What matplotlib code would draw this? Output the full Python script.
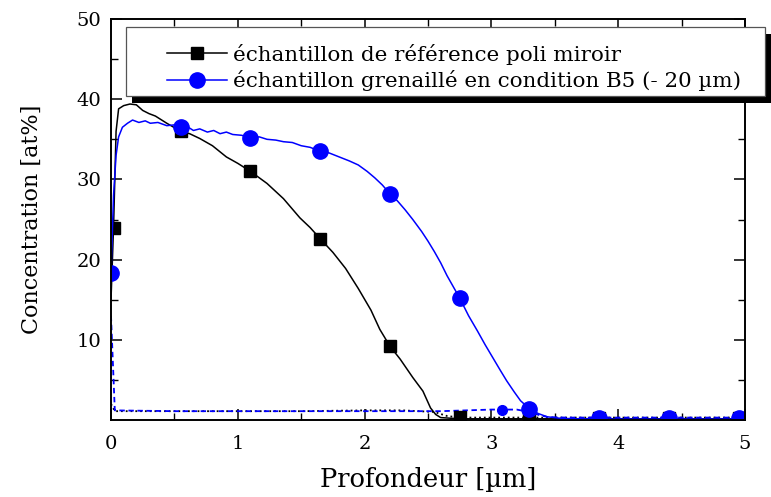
import matplotlib.pyplot as plt
from matplotlib.lines import Line2D
from matplotlib.patches import Rectangle

plt.rcParams['font.family'] = ['DejaVu Serif']

# reference sample (mirror polished), main profile
ref_x = [0.0, 0.02, 0.04, 0.06, 0.1, 0.15, 0.2, 0.25, 0.3, 0.35, 0.44, 0.55, 0.62, 0.7,
         0.8, 0.91, 1.0, 1.1, 1.23, 1.36, 1.49, 1.57, 1.65, 1.75, 1.85, 1.95, 2.05, 2.12,
         2.2, 2.28, 2.38, 2.46, 2.52, 2.56, 2.6, 2.7, 2.8, 3.0, 3.3, 3.6, 3.85, 4.2, 4.4,
         4.7, 4.95, 5.0]
ref_y = [15.0, 24.0, 36.0, 38.8, 39.2, 39.4, 39.3, 38.6, 38.2, 37.9, 37.0, 36.0, 35.7, 35.1,
         34.2, 32.8, 32.0, 31.0, 29.5, 27.6, 25.2, 24.0, 22.6, 20.9, 18.9, 16.4, 13.7, 11.3,
         9.2, 7.6, 5.3, 3.6, 1.5, 0.7, 0.3, 0.2, 0.15, 0.15, 0.15, 0.15, 0.15, 0.15, 0.15,
         0.15, 0.15, 0.15]
ref_mx = [0.02, 0.55, 1.1, 1.65, 2.2, 2.75, 3.3, 3.85, 4.4, 4.95]
ref_my = [24.0, 36.0, 31.0, 22.6, 9.2, 0.4, 0.2, 0.2, 0.2, 0.3]

# shot peened sample B5, main profile
b5_x = [0.0, 0.02, 0.04, 0.06, 0.09, 0.13, 0.17, 0.22, 0.27, 0.31, 0.37, 0.44, 0.5, 0.55,
        0.6, 0.65, 0.7, 0.76, 0.81, 0.86, 0.91, 0.96, 1.03, 1.1, 1.17, 1.23, 1.3, 1.36,
        1.43, 1.5, 1.57, 1.65, 1.72, 1.8, 1.88, 1.95, 2.02, 2.08, 2.14, 2.2, 2.26, 2.32,
        2.38, 2.45, 2.5, 2.55, 2.6, 2.65, 2.7, 2.75, 2.82, 2.89, 2.95, 3.01, 3.07, 3.12,
        3.18, 3.23, 3.3, 3.37, 3.44, 3.55, 3.7, 4.0, 4.5, 5.0]
b5_y = [18.3, 28.0, 33.0, 35.3, 36.5, 37.0, 37.4, 37.1, 37.3, 37.0, 37.1, 36.7, 36.8, 36.4,
        36.6, 36.1, 36.3, 35.9, 36.1, 35.7, 35.9, 35.6, 35.5, 35.2, 35.3, 35.0, 34.9, 34.7,
        34.6, 34.2, 34.0, 33.5, 33.3, 32.8, 32.3, 31.8, 31.0, 30.2, 29.3, 28.2, 27.3, 26.2,
        25.0, 23.5, 22.3, 21.0, 19.6, 18.0, 16.6, 15.2, 13.0, 11.1, 9.4, 7.8, 6.2, 4.9,
        3.5, 2.4, 1.4, 0.8, 0.4, 0.2, 0.15, 0.12, 0.12, 0.12]
b5_mx = [0.0, 0.55, 1.1, 1.65, 2.2, 2.75, 3.3, 3.85, 4.4, 4.95]
b5_my = [18.3, 36.5, 35.2, 33.5, 28.2, 15.2, 1.4, 0.2, 0.2, 0.3]

# second element profiles (dashed / dotted)
ref2_x = [0.0, 0.03, 0.5, 1.0, 1.5, 2.0, 2.3, 2.55, 2.65, 2.75, 3.0, 3.5, 4.0, 4.5, 5.0]
ref2_y = [2.0, 1.1, 1.1, 1.1, 1.1, 1.2, 1.2, 1.0, 0.5, 0.3, 0.3, 0.3, 0.3, 0.3, 0.3]
b52_x = [0.0, 0.03, 0.5, 1.0, 1.5, 2.0, 2.3, 2.6, 2.8, 3.0, 3.1, 3.2, 3.3, 3.38, 3.45,
         3.6, 4.0, 4.5, 5.0]
b52_y = [13.0, 1.2, 1.1, 1.1, 1.1, 1.1, 1.1, 1.1, 1.2, 1.3, 1.3, 1.3, 1.0, 0.6, 0.35,
         0.3, 0.3, 0.3, 0.3]
b52_mx = [3.08]
b52_my = [1.3]

labels = ['échantillon de référence poli miroir',
          'échantillon grenaillé en condition B5 (- 20 µm)']

W, H = 771, 497
fig = plt.figure(figsize=(W / 100, H / 100), dpi=100)
ax = fig.add_axes([111 / W, 1 - 420 / H, 634 / W, 401 / H])

ax.plot(ref2_x, ref2_y, color='k', linestyle=':', lw=1.3)
ax.plot(b52_x, b52_y, color='b', linestyle='--', lw=1.3, dashes=(3, 2))
ax.plot(b52_mx, b52_my, 'o', color='b', ms=7, linestyle='none')

ax.plot(ref_x, ref_y, color='k', lw=1.1)
ax.plot(ref_mx, ref_my, 's', color='k', ms=9, linestyle='none')
ax.plot(b5_x, b5_y, color='b', lw=1.1)
ax.plot(b5_mx, b5_my, 'o', color='b', ms=11, linestyle='none')

ax.set_xlim(0, 5)
ax.set_ylim(0, 50)
ax.set_xticks([0, 1, 2, 3, 4, 5])
ax.set_xticks([0.5, 1.5, 2.5, 3.5, 4.5], minor=True)
ax.set_yticks([10, 20, 30, 40, 50])
ax.set_yticks([5, 15, 25, 35, 45], minor=True)
ax.tick_params(which='both', direction='in', top=True, right=True, labelsize=14)
ax.tick_params(axis='x', which='both', pad=11)
ax.tick_params(axis='y', which='both', pad=7)
ax.tick_params(which='major', length=8, width=1.1)
ax.tick_params(which='minor', length=5, width=1.0)
for s in ax.spines.values():
    s.set_linewidth(1.4)

ax.set_xlabel('Profondeur [µm]', fontsize=18.5, labelpad=10)
ax.set_ylabel('Concentration [at%]', fontsize=16, labelpad=24)

# legend frame + black shadow drawn at fixed pixel spots
shadow = Rectangle((132 / W, 1 - 103 / H), 639 / W, 69 / H, transform=fig.transFigure,
                   facecolor='k', edgecolor='none', zorder=8, clip_on=False)
frame = Rectangle((126 / W, 1 - 96 / H), 639 / W, 69 / H, transform=fig.transFigure,
                  facecolor='white', edgecolor='#555555', lw=0.9, zorder=9, clip_on=False)
ax.add_patch(shadow)
ax.add_patch(frame)

handles = [
    Line2D([], [], color='k', lw=1.1, marker='s', ms=9),
    Line2D([], [], color='b', lw=1.1, marker='o', ms=11),
]
leg = ax.legend(handles, labels, loc='center left',
                bbox_to_anchor=(167 / W, 1 - 67.5 / H), bbox_transform=fig.transFigure,
                fontsize=15.4, handlelength=2.8, frameon=False, borderpad=0,
                labelspacing=0.28, handletextpad=0.3, borderaxespad=0)
leg.set_zorder(10)

fig.savefig('out.png', dpi=100)
